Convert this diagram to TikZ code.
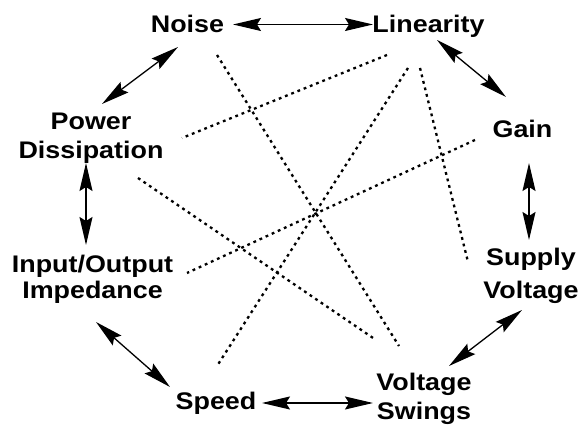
\documentclass[tikz,border=0pt]{standalone}
\usepackage{fontspec}
\newfontfamily\labfont{Liberation Sans}[FakeStretch=1.12]
\usetikzlibrary{arrows.meta}
\tikzset{
  lab/.style={inner sep=0pt, align=center, font=\labfont\bfseries\fontsize{24}{27}\selectfont},
  tipA/.tip={Stealth[length=28pt,width=13pt,inset=4pt]},
  arr/.style={line width=1.3pt, tipA-tipA},
  dots/.style={line width=2.3pt, dash pattern=on 2.8pt off 3.9pt}
}
\begin{document}
\begin{tikzpicture}[x=1pt,y=1pt]
\useasboundingbox[fill=white] (0,0) rectangle (580,427);
% nodes
\node[lab, anchor=base] (noise) at (187.5,394) {Noise};
\node[lab, anchor=base] (lin) at (428.5,394) {Linearity};
\node[lab, anchor=base] (gain) at (522.5,289) {Gain};
\node[lab, anchor=base] (speed) at (216,17) {Speed};
\node[lab, anchor=north] (pow) at (91,314) {Power\\[2pt]Dissipation};
\node[lab, anchor=north] (io) at (92.5,172) {Input/Output\\[-1pt]Impedance};
\node[lab, anchor=north] (sup) at (531,179) {Supply\\[6pt]Voltage};
\node[lab, anchor=north] (vs) at (424,54) {Voltage\\[2pt]Swings};
% double arrows
\draw[arr] ([shift={(45.5,8.5)}]noise.base) -- ([shift={(-55.5,8.5)}]lin.base);
\draw[arr] ([shift={(-9.5,-14)}]noise.base) -- ([shift={(11,9)}]pow.north);
\draw[arr] ([shift={(8.5,-7)}]lin.base) -- ([shift={(-16.5,41)}]gain.base);
\draw[arr] ([shift={(-5,-50)}]pow.north) -- ([shift={(-6.5,10)}]io.north);
\draw[arr] ([shift={(6.5,-25)}]gain.base) -- ([shift={(-2,8)}]sup.north);
\draw[arr] ([shift={(3.5,-67)}]io.north) -- ([shift={(-46,23)}]speed.base);
\draw[arr] ([shift={(-9,-62)}]sup.north) -- ([shift={(25,7)}]vs.north);
\draw[arr] ([shift={(46,7)}]speed.base) -- ([shift={(-51,-30)}]vs.north);
% dotted links
\draw[dots] ([shift={(29.5,-22)}]noise.base) -- ([shift={(-25,27)}]vs.north);
\draw[dots] ([shift={(-41.5,-22)}]lin.base) -- ([shift={(91,-25)}]pow.north);
\draw[dots] ([shift={(-20.5,-35)}]lin.base) -- ([shift={(1,44)}]speed.base);
\draw[dots] ([shift={(-8.5,-35)}]lin.base) -- ([shift={(-63,-14)}]sup.north);
\draw[dots] ([shift={(-47.5,-2)}]gain.base) -- ([shift={(94.5,-18)}]io.north);
\draw[dots] ([shift={(47,-65)}]pow.north) -- ([shift={(-48,33)}]vs.north);
\end{tikzpicture}
\end{document}
